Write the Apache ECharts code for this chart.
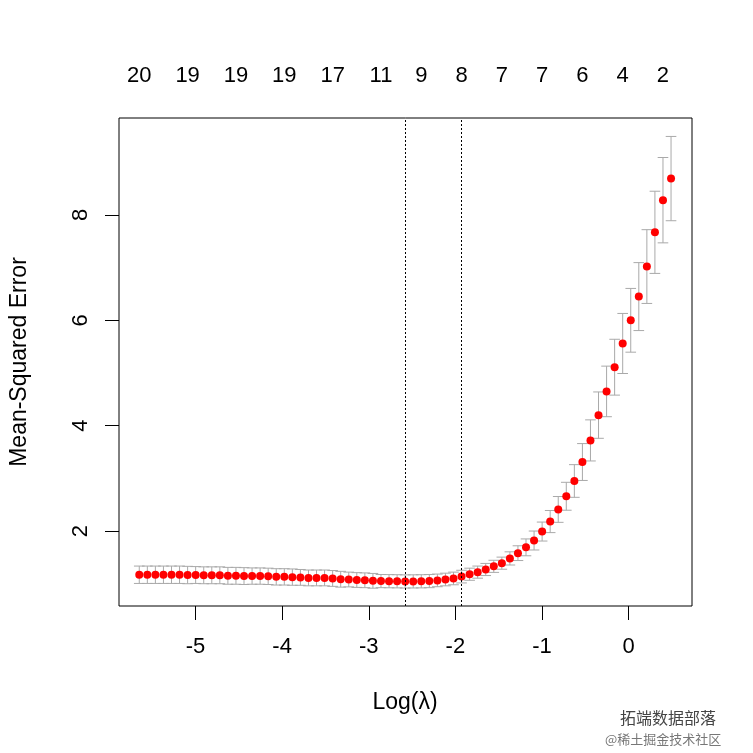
<!DOCTYPE html>
<html>
<head>
<meta charset="utf-8">
<script src="https://cdn.jsdelivr.net/npm/echarts@6/dist/echarts.min.js"></script>
<style>
html,body{margin:0;padding:0;background:#fff;}
#chart{width:753px;height:753px;}
</style>
</head>
<body>
<div id="chart"></div>
<script>
// log(lambda) values for each fitted lambda
const logLambda = [-5.649,-5.556,-5.463,-5.370,-5.277,-5.184,-5.091,-4.998,-4.905,-4.812,
  -4.719,-4.626,-4.533,-4.440,-4.347,-4.254,-4.161,-4.068,-3.975,-3.882,
  -3.789,-3.696,-3.603,-3.510,-3.417,-3.324,-3.231,-3.138,-3.045,-2.952,
  -2.859,-2.766,-2.673,-2.580,-2.487,-2.394,-2.301,-2.208,-2.115,-2.022,
  -1.929,-1.836,-1.743,-1.650,-1.557,-1.464,-1.371,-1.278,-1.185,-1.092,
  -0.999,-0.906,-0.813,-0.720,-0.627,-0.534,-0.441,-0.348,-0.255,-0.162,
  -0.069,0.024,0.117,0.210,0.303,0.396,0.489];
// cross-validated mean squared error
const cvm = [1.17,1.17,1.17,1.17,1.17,1.17,1.165,1.165,1.16,1.16,
  1.16,1.15,1.15,1.145,1.145,1.145,1.14,1.13,1.13,1.125,
  1.12,1.11,1.11,1.11,1.10,1.085,1.08,1.07,1.065,1.055,
  1.05,1.048,1.046,1.043,1.044,1.046,1.05,1.063,1.08,1.10,
  1.135,1.18,1.22,1.27,1.33,1.39,1.48,1.58,1.69,1.82,
  1.99,2.18,2.41,2.66,2.95,3.31,3.72,4.20,4.65,5.11,
  5.56,6.00,6.45,7.02,7.67,8.28,8.69];
// standard error of the CV estimate
const cvsd = [0.165,0.165,0.165,0.165,0.165,0.165,0.165,0.16,0.16,0.16,
  0.16,0.16,0.16,0.16,0.155,0.155,0.155,0.155,0.155,0.155,
  0.15,0.15,0.15,0.15,0.15,0.15,0.14,0.14,0.14,0.14,
  0.125,0.125,0.125,0.125,0.125,0.125,0.125,0.12,0.12,0.12,
  0.12,0.115,0.115,0.115,0.115,0.115,0.125,0.14,0.16,0.18,
  0.18,0.21,0.245,0.265,0.31,0.35,0.39,0.44,0.48,0.53,
  0.57,0.605,0.645,0.70,0.78,0.81,0.80];
// top axis: number of nonzero coefficients
const topIdx = [0,6,12,18,24,30,35,40,45,50,55,60,65];
const topLabels = ['20','19','19','19','17','11','9','8','7','7','6','4','2'];
const xTicks = [-5,-4,-3,-2,-1,0];
const yTicks = [2,4,6,8];
const idxMin = 33, idx1se = 40;

const FONT = '"Liberation Sans", Arial, sans-serif';
const pts = logLambda.map((x,i)=>[x,cvm[i]]);
const bars = logLambda.map((x,i)=>[x,cvm[i]-cvsd[i],cvm[i]+cvsd[i]]);
const capW = 0.0614;
const topVals = topIdx.map(i=>logLambda[i]);

const chart = echarts.init(document.getElementById('chart'),null,{renderer:'canvas'});
chart.setOption({
  animation:false,
  backgroundColor:'#fff',
  grid:{left:119,right:61,top:118,bottom:147,show:true,borderColor:'#000',borderWidth:1,backgroundColor:'transparent'},
  xAxis:[{
    type:'value',min:-5.883,max:0.731,position:'bottom',
    axisLine:{show:false,onZero:false},splitLine:{show:false},
    axisTick:{show:true,customValues:xTicks,length:14,lineStyle:{color:'#000',width:1}},
    axisLabel:{customValues:xTicks,margin:30,color:'#000',fontSize:22,fontFamily:FONT}
  },{
    type:'value',min:-5.883,max:0.731,position:'top',
    axisLine:{show:false,onZero:false},splitLine:{show:false},axisTick:{show:false},
    axisLabel:{customValues:topVals,margin:31,color:'#000',fontSize:22,fontFamily:FONT,
      formatter:function(v){let b=0,d=1e9;topVals.forEach((t,k)=>{if(Math.abs(t-v)<d){d=Math.abs(t-v);b=k;}});return topLabels[b];}}
  }],
  yAxis:{
    type:'value',min:0.577,max:9.84,position:'left',
    axisLine:{show:false,onZero:false},splitLine:{show:false},
    axisTick:{show:true,customValues:yTicks,length:14,lineStyle:{color:'#000',width:1}},
    axisLabel:{customValues:yTicks,rotate:90,margin:27,color:'#000',fontSize:22,fontFamily:FONT}
  },
  series:[{
    type:'custom',
    data:bars,
    silent:true,
    renderItem:function(params,api){
      const x=api.value(0),lo=api.value(1),hi=api.value(2);
      const pTop=api.coord([x,hi]),pBot=api.coord([x,lo]);
      const pL=api.coord([x-capW,hi]),pR=api.coord([x+capW,hi]);
      const st={stroke:'#A9A9A9',lineWidth:1};
      return {type:'group',children:[
        {type:'line',shape:{x1:pTop[0],y1:pTop[1],x2:pBot[0],y2:pBot[1]},style:st},
        {type:'line',shape:{x1:pL[0],y1:pTop[1],x2:pR[0],y2:pTop[1]},style:st},
        {type:'line',shape:{x1:pL[0],y1:pBot[1],x2:pR[0],y2:pBot[1]},style:st}
      ]};
    },
    z:1
  },{
    type:'scatter',
    data:pts,
    symbol:'circle',symbolSize:8,
    itemStyle:{color:'#FF0000',opacity:1},
    z:3,
    markLine:{
      silent:true,symbol:['none','none'],label:{show:false},
      lineStyle:{color:'#000',type:[2,2],width:1},
      data:[{xAxis:logLambda[idxMin]},{xAxis:logLambda[idx1se]}]
    }
  }],
  graphic:[
    {type:'text',x:405,y:703,style:{text:'Log(λ)',font:'23px '+FONT,fill:'#000',textAlign:'center',textVerticalAlign:'middle'}},
    {type:'text',rotation:Math.PI/2,x:20,y:362,style:{text:'Mean-Squared Error',font:'23px '+FONT,fill:'#000',textAlign:'center',textVerticalAlign:'middle'}},
    {type:'text',x:620,y:718,style:{text:'拓端数据部落',font:'16px "Noto Sans CJK SC"',fill:'#444',textAlign:'left',textVerticalAlign:'middle'}},
    {type:'text',x:605,y:739,style:{text:'@稀土掘金技术社区',font:'13px "Noto Sans CJK SC"',fill:'#777',textAlign:'left',textVerticalAlign:'middle'}}
  ]
});
</script>
</body>
</html>
